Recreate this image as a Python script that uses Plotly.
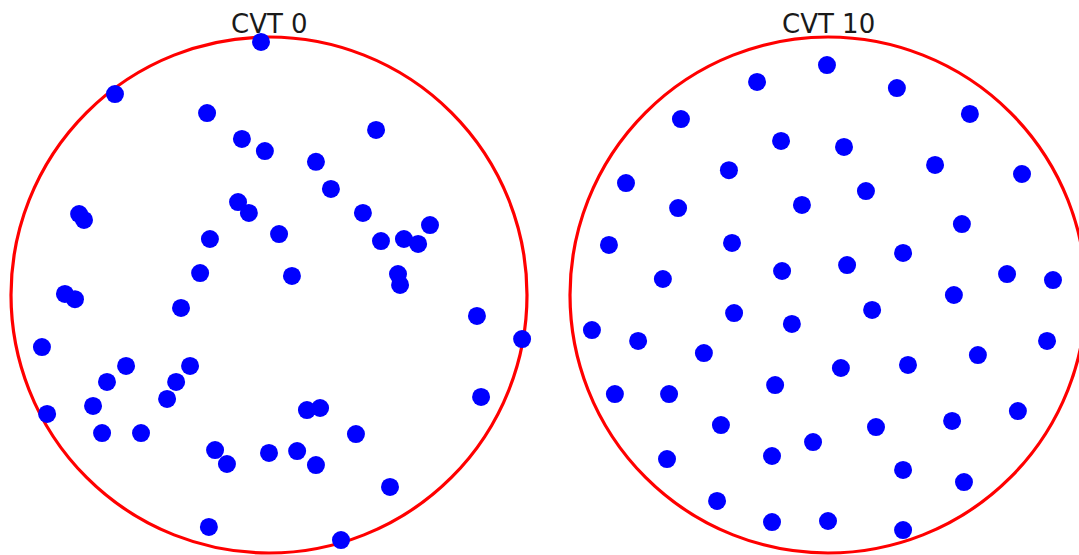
import plotly.graph_objects as go

# Point positions in unit-disk coordinates (circle radius = 1)
cvt0_x = [-0.031, -0.597, -0.240, 0.415, -0.105, -0.016, 0.182, 0.240, -0.736, -0.717,
          -0.120, -0.078, 0.364, 0.624, 0.039, -0.229, 0.434, 0.523, 0.578, -0.267,
          0.089, 0.500, 0.508, -0.791, -0.752, -0.341, 0.806, 0.981, -0.880, -0.306,
          -0.554, -0.628, -0.360, -0.395, -0.682, 0.147, 0.198, 0.822, -0.860, -0.647,
          -0.496, 0.337, -0.209, -0.163, 0.000, 0.109, 0.182, 0.469, -0.233, 0.279]
cvt0_y = [0.981, 0.779, 0.705, 0.640, 0.605, 0.558, 0.516, 0.411, 0.314, 0.291,
          0.360, 0.318, 0.318, 0.271, 0.236, 0.217, 0.209, 0.217, 0.198, 0.085,
          0.074, 0.081, 0.039, 0.004, -0.016, -0.050, -0.081, -0.171, -0.202, -0.275,
          -0.275, -0.337, -0.337, -0.403, -0.430, -0.446, -0.438, -0.395, -0.461, -0.535,
          -0.535, -0.539, -0.601, -0.655, -0.612, -0.605, -0.659, -0.744, -0.899, -0.950]

cvt10_x = [-0.004, -0.275, 0.267, -0.570, 0.550, -0.182, 0.062, -0.384, 0.415, 0.752,
           -0.783, 0.147, -0.581, -0.101, 0.519, -0.849, -0.372, 0.291, -0.178, 0.074,
           0.694, 0.872, -0.640, 0.488, -0.364, 0.171, -0.140, -0.915, -0.736, 0.849,
           -0.481, 0.581, 0.310, 0.050, -0.205, -0.826, -0.616, 0.736, 0.481, -0.415,
           0.186, -0.058, -0.217, -0.624, 0.291, 0.527, -0.430, -0.217, 0.000, 0.291]
cvt10_y = [0.891, 0.826, 0.802, 0.682, 0.702, 0.597, 0.574, 0.484, 0.504, 0.469,
           0.434, 0.403, 0.337, 0.349, 0.275, 0.194, 0.202, 0.163, 0.093, 0.116,
           0.081, 0.058, 0.062, 0.000, -0.070, -0.058, -0.112, -0.136, -0.178, -0.178,
           -0.225, -0.233, -0.271, -0.283, -0.349, -0.384, -0.384, -0.450, -0.488, -0.504,
           -0.512, -0.570, -0.624, -0.636, -0.678, -0.725, -0.798, -0.880, -0.876, -0.911]

titles = ["CVT 0", "CVT 10"]

W, H = 1079, 555
R = 258.0           # circle radius in pixels
CY = 295.0          # circle centre (pixels from top of figure)
centers_x = [269.0, 828.0]
split = 540.0

fig = go.Figure()
marker = dict(color="#0000ff", size=18, line=dict(width=0))
fig.add_trace(go.Scatter(x=cvt0_x, y=cvt0_y, mode="markers", marker=marker,
                         xaxis="x", yaxis="y", showlegend=False, hoverinfo="skip"))
fig.add_trace(go.Scatter(x=cvt10_x, y=cvt10_y, mode="markers", marker=marker,
                         xaxis="x2", yaxis="y2", showlegend=False, hoverinfo="skip"))

yr = [-(H - CY) / R, CY / R]
xr1 = [-(centers_x[0] - 0) / R, (split - centers_x[0]) / R]
xr2 = [-(centers_x[1] - split) / R, (W - centers_x[1]) / R]

ax_common = dict(visible=False, showgrid=False, zeroline=False, fixedrange=True)
fig.update_layout(
    width=W, height=H,
    margin=dict(l=0, r=0, t=0, b=0),
    paper_bgcolor="white", plot_bgcolor="white",
    xaxis=dict(domain=[0, split / W], range=xr1, **ax_common),
    yaxis=dict(domain=[0, 1], range=yr, **ax_common),
    xaxis2=dict(domain=[split / W, 1], range=xr2, **ax_common),
    yaxis2=dict(domain=[0, 1], range=yr, anchor="x2", **ax_common),
)

for xref, yref in [("x", "y"), ("x2", "y2")]:
    fig.add_shape(type="circle", xref=xref, yref=yref, x0=-1, y0=-1, x1=1, y1=1,
                  line=dict(color="#ff0000", width=3.2), layer="below")

for t, cx in zip(titles, centers_x):
    fig.add_annotation(text=t, x=cx / W, y=1 - 24 / H, xref="paper", yref="paper",
                       showarrow=False, xanchor="center", yanchor="middle",
                       font=dict(family="DejaVu Sans", size=26, color="#1a1a1a"))

fig.write_html("out.html", include_plotlyjs=True,
               config={"displayModeBar": False, "staticPlot": True},
               post_script="document.body.style.margin='0';document.body.style.overflow='hidden';")
